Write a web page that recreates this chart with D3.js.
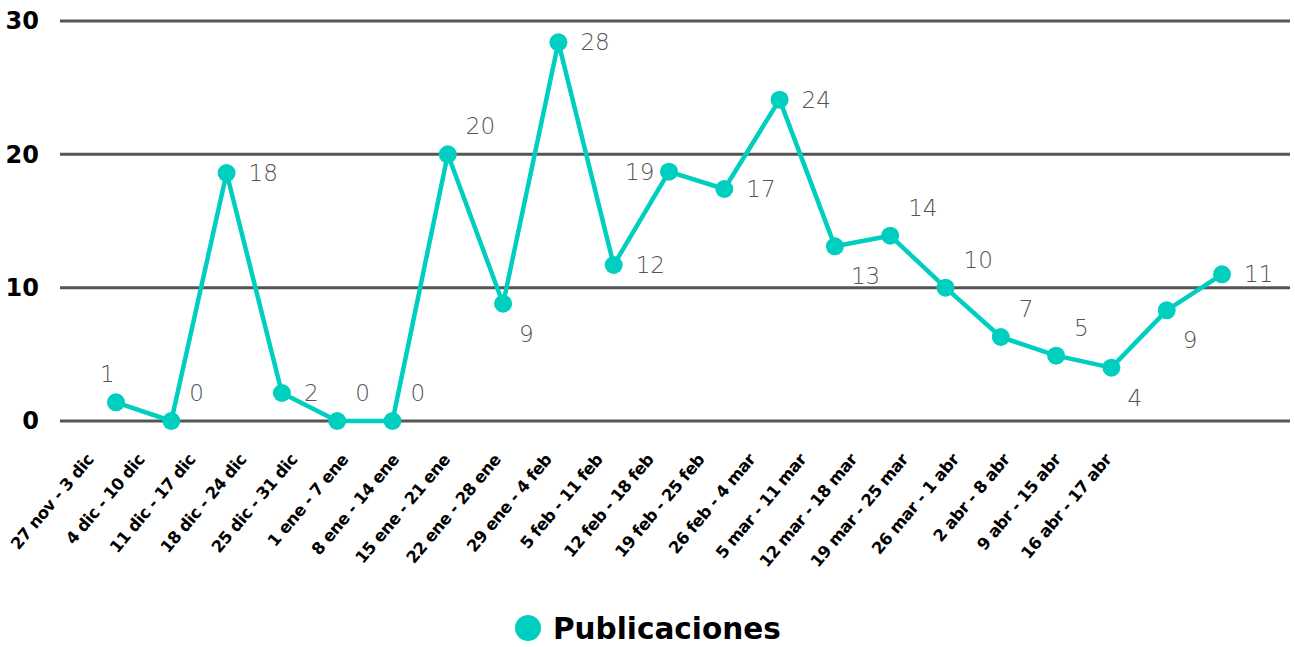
<!DOCTYPE html>
<html>
<head>
<meta charset="utf-8">
<script src="https://cdn.jsdelivr.net/npm/d3@7"></script>
<style>
  body { margin: 0; background: #fff; }
  svg { display: block; font-family: "DejaVu Sans", sans-serif; }
</style>
</head>
<body>
<div id="chart"></div>
<script>
// Weeks on the x axis.
const weeks = [
  "27 nov - 3 dic", "4 dic - 10 dic", "11 dic - 17 dic", "18 dic - 24 dic",
  "25 dic - 31 dic", "1 ene - 7 ene", "8 ene - 14 ene", "15 ene - 21 ene",
  "22 ene - 28 ene", "29 ene - 4 feb", "5 feb - 11 feb", "12 feb - 18 feb",
  "19 feb - 25 feb", "26 feb - 4 mar", "5 mar - 11 mar", "12 mar - 18 mar",
  "19 mar - 25 mar", "26 mar - 1 abr", "2 abr - 8 abr", "9 abr - 15 abr",
  "16 abr - 17 abr"
];

// Plotted values (as they sit in the picture) and their printed labels.
const publicaciones = [1.4, 0, 18.6, 2.1, 0, 0, 20, 8.8, 28.4, 11.7, 18.7, 17.4,
  24.1, 13.1, 13.9, 10, 6.3, 4.9, 4, 8.3, 11];
const labels = ["1", "0", "18", "2", "0", "0", "20", "9", "28", "12", "19", "17",
  "24", "13", "14", "10", "7", "5", "4", "9", "11"];

const yTicks = [0, 10, 20, 30];

// Where each value label sits around its point.
const labelPlace = ["nw", "ne", "e", "e", "ne", "ne", "ne", "se", "e", "e", "w", "e",
  "e", "se", "ne", "ne", "ne", "ne", "se", "se", "e"];
const placeOffset = {
  e: [22, 0], ne: [18, -28], se: [16, 30], nw: [-16, -28], w: [-44, 0]
};

const width = 1295;
const height = 647;
const teal = "#00cfc0";

const svg = d3.select("#chart")
  .append("svg")
  .attr("width", width)
  .attr("height", height);

// Scales.
const x = d3.scalePoint()
  .domain(weeks)
  .range([116, 1222]);

const y = d3.scaleLinear()
  .domain([0, 30])
  .range([421, 21]);

// Gridlines.
svg.append("g")
  .selectAll("line")
  .data(yTicks)
  .enter()
  .append("line")
  .attr("x1", 60)
  .attr("x2", 1290)
  .attr("y1", function(d) { return y(d); })
  .attr("y2", function(d) { return y(d); })
  .attr("stroke", "#555")
  .attr("stroke-width", 3);

// Y axis labels.
svg.append("g")
  .attr("transform", "translate(39,0)")
  .call(d3.axisLeft(y).tickValues(yTicks).tickSize(0).tickPadding(0))
  .call(function(g) { g.select(".domain").remove(); })
  .selectAll("text")
  .attr("font-family", "DejaVu Sans, sans-serif")
  .attr("font-size", 24)
  .attr("font-weight", 700)
  .attr("fill", "#000");

// X axis labels (slanted).
const xl = d3.scalePoint()
  .domain(weeks)
  .range([94, 1112]);

svg.append("g")
  .attr("transform", "translate(0,460)")
  .call(d3.axisBottom(xl).tickSize(0).tickPadding(0))
  .call(function(g) { g.select(".domain").remove(); })
  .selectAll("text")
  .attr("font-family", "DejaVu Sans, sans-serif")
  .attr("font-size", 16.5)
  .attr("font-weight", 700)
  .attr("letter-spacing", -0.5)
  .attr("fill", "#000")
  .attr("dy", 0)
  .attr("transform", "rotate(-50)")
  .style("text-anchor", "end");

// Line.
const line = d3.line()
  .x(function(d, i) { return x(weeks[i]); })
  .y(function(d) { return y(d); });

svg.append("path")
  .datum(publicaciones)
  .attr("d", line)
  .attr("fill", "none")
  .attr("stroke", teal)
  .attr("stroke-width", 4.5)
  .attr("stroke-linejoin", "round");

// Points.
svg.append("g")
  .selectAll("circle")
  .data(publicaciones)
  .enter()
  .append("circle")
  .attr("cx", function(d, i) { return x(weeks[i]); })
  .attr("cy", function(d) { return y(d); })
  .attr("r", 9)
  .attr("fill", teal);

// Value labels.
svg.append("g")
  .selectAll("text")
  .data(publicaciones)
  .enter()
  .append("text")
  .attr("x", function(d, i) { return x(weeks[i]) + placeOffset[labelPlace[i]][0]; })
  .attr("y", function(d, i) { return y(d) + placeOffset[labelPlace[i]][1]; })
  .attr("dy", "0.35em")
  .attr("font-size", 23)
  .attr("font-weight", 200)
  .attr("fill", "#555")
  .text(function(d, i) { return labels[i]; });

// Legend.
const legend = svg.append("g").attr("transform", "translate(528,628)");
legend.append("circle").attr("r", 13).attr("fill", teal);
legend.append("text")
  .attr("x", 25)
  .attr("y", 10.5)
  .attr("font-size", 29.5)
  .attr("font-weight", 700)
  .attr("fill", "#000")
  .text("Publicaciones");
</script>
</body>
</html>
